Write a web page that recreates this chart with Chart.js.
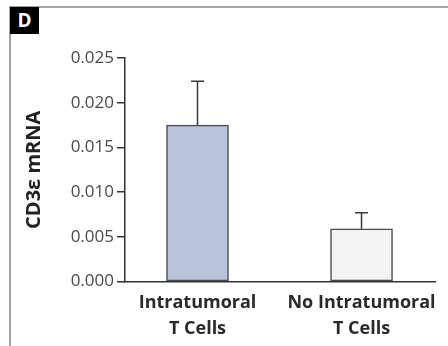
<!DOCTYPE html>
<html>
<head>
<meta charset="utf-8">
<script src="https://cdn.jsdelivr.net/npm/chart.js@4/dist/chart.umd.min.js"></script>
<style>
  html, body { margin: 0; padding: 0; background: #fff; }
  #wrap { position: relative; width: 448px; height: 346px; overflow: hidden; }
  #frame { position: absolute; left: 9px; top: 6px; right: -5px; bottom: -5px;
           border-top: 2.5px solid #a3a3a3; border-left: 2px solid #a3a3a3; }
  #panel { position: absolute; left: 10px; top: 7px; width: 29px; height: 27px; background: #000;
           color: #fff; font: bold 19px "Open Sans", sans-serif; line-height: 27px; text-align: center; }
  canvas { position: absolute; left: 0; top: 0; }
</style>
</head>
<body>
<div id="wrap">
  <div id="frame"></div>
  <canvas id="chart" width="448" height="346"></canvas>
  <div id="panel">D</div>
</div>
<script>
const categories = [['Intratumoral', 'T Cells'], ['No Intratumoral', 'T Cells']];
const means = [0.0175, 0.0059];
const errorTops = [0.0224, 0.0077];
const yTicks = [0, 0.005, 0.010, 0.015, 0.020, 0.025];
const barColors = ['#b9c4da', '#f3f3f3'];

const errorBars = {
  id: 'errorBars',
  afterDatasetsDraw(chart) {
    const { ctx, scales: { x, y } } = chart;
    ctx.save();
    ctx.strokeStyle = '#3a3a3a';
    ctx.lineWidth = 1.5;
    errorTops.forEach((top, i) => {
      const px = x.getPixelForValue(i);
      const yMean = y.getPixelForValue(means[i]);
      const yTop = y.getPixelForValue(top);
      ctx.beginPath();
      ctx.moveTo(px, yMean);
      ctx.lineTo(px, yTop);
      ctx.moveTo(px - 6.5, yTop);
      ctx.lineTo(px + 6.5, yTop);
      ctx.stroke();
    });
    ctx.restore();
  }
};

new Chart(document.getElementById('chart'), {
  type: 'bar',
  data: {
    datasets: [{
      data: means.map((v, i) => ({ x: i, y: v })),
      backgroundColor: barColors,
      borderColor: '#4a4a4a',
      borderWidth: 1.5,
      borderSkipped: false,
      barThickness: 62
    }]
  },
  options: {
    responsive: false,
    animation: false,
    layout: { padding: { left: 10, top: 58, right: 13, bottom: 4 } },
    plugins: { legend: { display: false }, tooltip: { enabled: false } },
    scales: {
      x: {
        type: 'linear',
        offset: false,
        min: -0.442,
        max: 1.448,
        grid: { display: false, offset: false },
        border: { color: '#333', width: 1.5 },
        afterBuildTicks: scale => { scale.ticks = categories.map((c, i) => ({ value: i })); },
        ticks: {
          autoSkip: false,
          maxRotation: 0,
          padding: 1,
          color: '#2a2a2a',
          font: { family: 'Open Sans', size: 18, weight: 'bold', lineHeight: 1.4 },
          callback: v => categories[v]
        }
      },
      y: {
        min: 0,
        max: 0.025,
        afterBuildTicks: scale => { scale.ticks = yTicks.map(v => ({ value: v })); },
        afterFit: scale => { scale.width = 115; },
        grid: { drawOnChartArea: false, drawTicks: true, tickLength: 8, color: '#333', lineWidth: 1.5 },
        border: { color: '#333', width: 1.5 },
        ticks: {
          padding: 3,
          color: '#4a4a4a',
          font: { family: 'Open Sans', size: 17 },
          callback: v => v.toFixed(3)
        },
        title: {
          display: true,
          text: 'CD3\u03b5 mRNA',
          color: '#222',
          padding: { top: 12, bottom: 0 },
          font: { family: 'Open Sans', size: 20, weight: 'bold' }
        }
      }
    }
  },
  plugins: [errorBars]
});
</script>
</body>
</html>
